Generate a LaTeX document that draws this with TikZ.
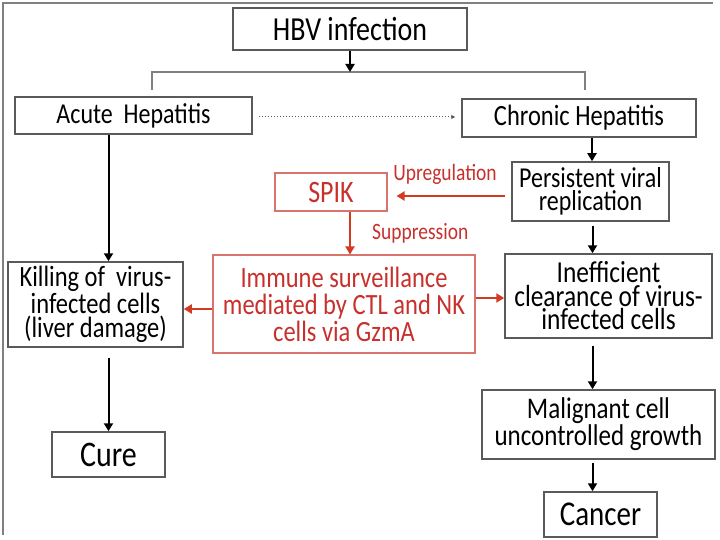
\documentclass[tikz,border=0pt]{standalone}
\usepackage{fontspec}
\setmainfont{Carlito}[FakeStretch=0.833]
\usetikzlibrary{arrows.meta}
\definecolor{boxgray}{HTML}{5A5A5A}
\definecolor{redtext}{HTML}{C8302C}
\definecolor{redline}{HTML}{D9736E}
\definecolor{redarrow}{HTML}{D23A22}
\tikzset{
  box/.style={draw=boxgray, line width=1.5pt, inner sep=0pt, align=center, text=black},
  redbox/.style={draw=redline, line width=1.1pt, inner sep=0pt, align=center, text=redtext},
  arr/.style={line width=2pt, draw=black, -{Triangle[length=8pt,width=9pt]}},
  redarr/.style={line width=2pt, draw=redarrow, -{Triangle[length=8pt,width=9pt]}},
  lbl/.style={text=redtext, font=\fontsize{23.4}{24}\selectfont, inner sep=0pt},
  conn/.style={line width=1.3pt, draw=gray}
}
\begin{document}
\begin{tikzpicture}[x=1pt,y=-1pt]
\useasboundingbox (0,0) rectangle (720,540);
\draw[line width=1.2pt, draw=gray] (3,535) -- (3,3) -- (713,3);

\node[box, minimum width=234, minimum height=42, font=\fontsize{33.6}{34}\selectfont] (hbv) at (350,29) {HBV infection};
\node[box, minimum width=237, minimum height=37, font=\fontsize{28.8}{29}\selectfont] (acute) at (133.5,115.5) {Acute\ \ Hepatitis};
\node[box, minimum width=234, minimum height=38, font=\fontsize{29.4}{30}\selectfont] (chronic) at (579,118) {Chronic Hepatitis};
\node[box, minimum width=157, minimum height=59, font=\fontsize{28.8}{23.5}\selectfont] (persist) at (590.5,191.5) {Persistent viral\\replication};
\node[box, minimum width=207, minimum height=84, font=\fontsize{30.5}{23.5}\selectfont] (ineff) at (608.5,296) {Inefficient\\clearance of virus-\\infected cells};
\node[box, minimum width=233, minimum height=69, font=\fontsize{30}{27}\selectfont] (malig) at (598.5,424.5) {Malignant cell\\uncontrolled growth};
\node[box, minimum width=113, minimum height=45, font=\fontsize{34.8}{35}\selectfont] (cancer) at (600.5,514.5) {Cancer};
\node[box, minimum width=175, minimum height=85, font=\fontsize{29.4}{24}\selectfont] (killing) at (95.5,304.5) {Killing of\ \ virus-\\infected cells\\(liver damage)};
\node[box, minimum width=113, minimum height=45, font=\fontsize{36}{36}\selectfont] (cure) at (108.5,454.5) {Cure};
\node[redbox, minimum width=112, minimum height=38, font=\fontsize{31.2}{32}\selectfont] (spik) at (331,192) {SPIK};
\node[redbox, minimum width=262, minimum height=98, font=\fontsize{29.4}{27}\selectfont] (immune) at (344,304) {Immune surveillance\\mediated by CTL and NK\\cells via GzmA};

\coordinate (brL) at (152,90);
\coordinate (brR) at (585,90);
\coordinate (brM) at (350,72);
\draw[conn] (brL) -- (brL |- brM) -- (brR |- brM) -- (brR);
\draw[arr] (hbv.south) -- (brM);

\draw[line width=1pt, draw=boxgray, dotted, -{Triangle[length=4pt,width=4pt]}, shorten <=6pt, shorten >=6pt] (acute.east |- 0,117) -- (chronic.west |- 0,117);

\draw[arr] (acute.south -| cure) -- (killing.north -| cure);
\draw[arr, shorten <=10pt] (killing.south -| cure) -- (cure.north);
\draw[arr] ([xshift=1.5pt]chronic.south -| persist) -- ([xshift=1.5pt]persist.north);
\draw[arr, shorten <=4pt] ([xshift=2pt]persist.south) -- ([xshift=2pt]ineff.north -| persist);
\draw[arr, shorten <=7pt] ([xshift=2pt]ineff.south -| persist) -- ([xshift=2pt]malig.north -| persist);
\draw[arr, shorten <=3pt] ([xshift=2pt]malig.south -| persist) -- ([xshift=2pt]cancer.north -| persist);

\draw[redarr, shorten <=6pt, shorten >=9pt] (persist.west |- 0,196) -- (spik.east |- 0,196);
\node[lbl, anchor=south] (up) at (445,185) {Upregulation};
\draw[redarr] ([xshift=19pt]spik.south) -- ([xshift=19pt]immune.north -| spik);
\node[lbl, anchor=west] (sup) at (372,233) {Suppression};
\draw[redarr] (immune.west |- 0,309) -- (killing.east |- 0,309);
\draw[redarr] (immune.east |- 0,298) -- (ineff.west |- 0,298);
\end{tikzpicture}
\end{document}
